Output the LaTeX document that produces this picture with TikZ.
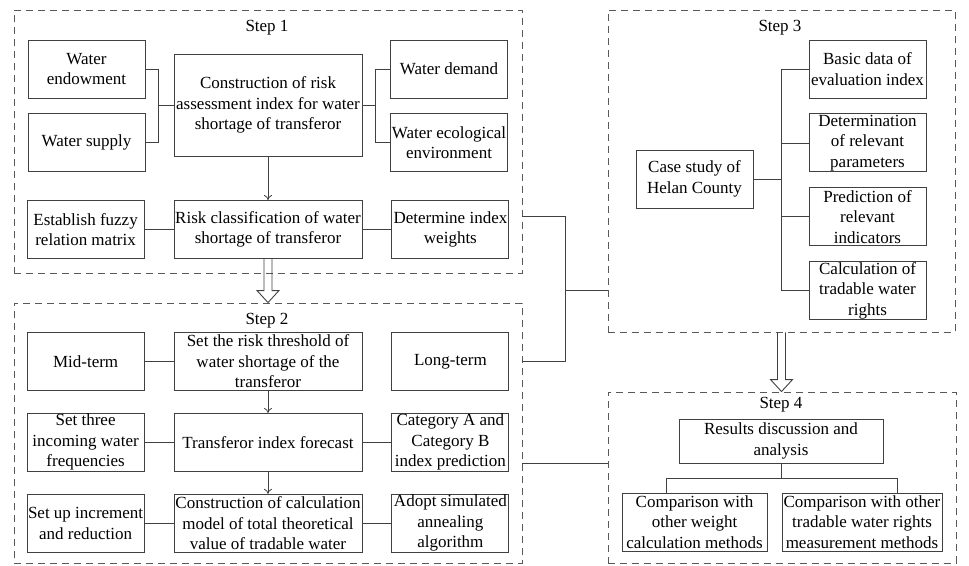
\documentclass[tikz,border=0pt]{standalone}
\usepackage{fontspec}
\setmainfont{Liberation Serif}
\usetikzlibrary{arrows.meta,positioning,calc}

% outlined block arrow between two steps
\newcommand{\hollowarrow}[2]{%
  \draw[line width=0.9pt, draw=black!75] let \p1=(#1), \p2=(#2) in
    (\x1-4pt,\y1) -- (\x1-4pt,\y2+12pt) -- (\x1-11pt,\y2+12pt) -- (\x1,\y2)
    -- (\x1+11pt,\y2+12pt) -- (\x1+4pt,\y2+12pt) -- (\x1+4pt,\y1);}

\begin{document}
\begin{tikzpicture}[x=1pt, y=-1pt, >={To[length=5pt,width=8pt]},
                    font={\fontsize{17}{20.5}\selectfont}]
  \tikzstyle{box}=[draw=black!75, rectangle, line width=0.9pt, align=center,
                   inner sep=0pt, minimum width=117pt, minimum height=58pt, text=black]
  \tikzstyle{mid}=[box, minimum width=188pt]
  \tikzstyle{stepbox}=[draw=black!65, dash pattern=on 7pt off 5pt, line width=0.9pt,
                       rectangle, inner sep=0pt]
  \tikzstyle{link}=[draw=black!75, line width=0.8pt]

  \useasboundingbox (0,0) rectangle (969,565);

  % dashed step frames
  \node[stepbox, minimum width=508pt, minimum height=263pt] (s1) at (268,141.5) {};
  \node[stepbox, minimum width=508pt, minimum height=260pt] (s2) at (268,433)   {};
  \node[stepbox, minimum width=347pt, minimum height=322pt] (s3) at (781.5,171) {};
  \node[stepbox, minimum width=348pt, minimum height=171pt] (s4) at (782,477.5) {};

  % Step 1
  \node (t1) at (267,28) {Step 1};
  \node[mid, minimum height=102pt] (cons) at (268,105)
       {Construction of risk\\assessment index for water\\shortage of transferor};
  \node[box] (endow)  at (86.5,69)    {Water\\endowment};
  \node[box] (supply) at (86.5,142.5) {Water supply};
  \node[box] (demand) at (449,69)     {Water demand};
  \node[box] (eco)    at (449,142.5)  {Water ecological\\environment};
  \node[mid] (risk)   at (268,229.5)  {Risk classification of water\\shortage of transferor};
  \node[box, left=29pt of risk]  (fuzzy)  {Establish fuzzy\\relation matrix};
  \node[box, right=29pt of risk] (weight) {Determine index\\weights};

  % Step 2
  \node (t2) at (267,321) {Step 2};
  \node[mid] (thresh) at (268,361.5) {Set the risk threshold of\\water shortage of the\\transferor};
  \node[box, left=29pt of thresh]  (midterm)  {Mid-term};
  \node[box, right=29pt of thresh] (longterm) {Long-term};
  \node[mid, below=22pt of thresh] (fore) {Transferor index forecast};
  \node[box, left=29pt of fore]  (freq) {Set three\\incoming water\\frequencies};
  \node[box, right=29pt of fore] (cat)  {Category A and\\Category B\\index prediction};
  \node[mid, below=22pt of fore] (model)
       {Construction of calculation\\model of total theoretical\\value of tradable water};
  \node[box, left=29pt of model]  (incr)   {Set up increment\\and reduction};
  \node[box, right=29pt of model] (anneal) {Adopt simulated\\annealing\\algorithm};

  % Step 3
  \node (t3) at (780,28) {Step 3};
  \node[box] (case)  at (694.5,179) {Case study of\\Helan County};
  \node[box] (basic) at (867.5,69)  {Basic data of\\evaluation index};
  \node[box, below=15pt of basic] (param) {Determination\\of relevant\\parameters};
  \node[box, below=15pt of param] (pred)  {Prediction of\\relevant\\indicators};
  \node[box, below=15pt of pred]  (calc)  {Calculation of\\tradable water\\rights};

  % Step 4
  \node (t4) at (781,405) {Step 4};
  \node[box, minimum width=204pt, minimum height=44pt] (res) at (781,441)
       {Results discussion and\\analysis};
  \node[box, minimum width=145pt] (cmpw) at (694.5,522)
       {Comparison with\\other weight\\calculation methods};
  \node[box, minimum width=160pt] (cmpm) at (862,522)
       {Comparison with other\\tradable water rights\\measurement methods};

  % links inside step 1
  \draw[link] (endow.east) -- ++(13,0) |- (supply.east);
  \draw[link] (cons.west) -- ++(-16,0);
  \draw[link] (demand.west) -- ++(-15,0) |- (eco.west);
  \draw[link] (cons.east) -- ++(14,0);
  \draw[link,->] (cons) -- (risk);
  \draw[link] (fuzzy) -- (risk) -- (weight);

  % links inside step 2
  \draw[link] (midterm) -- (thresh);
  \draw[link,->] (thresh) -- (fore);
  \draw[link,->] (fore) -- (model);
  \draw[link] (freq) -- (fore) -- (cat);
  \draw[link] (incr) -- (model) -- (anneal);

  % step 3 tree
  \draw[link] (case.east) -- ++(29,0);
  \draw[link] (basic.west) -- ++(-27,0) |- (calc.west);
  \draw[link] (param.west) -- ++(-27,0);
  \draw[link] (pred.west) -- ++(-27,0);

  % step 4 tree
  \coordinate (forkL) at (666,478);
  \coordinate (forkR) at (897,478);
  \draw[link] (res.south) -- (res.south |- forkL);
  \draw[link] (cmpw.north -| forkL) -- (forkL) -- (forkR) -- (cmpm.north -| forkR);

  % between the steps
  \coordinate (bus) at (565,0);
  \draw[link] (s1.east |- pred) -- (bus |- pred) -- (bus |- longterm) -- (s2.east |- longterm);
  \draw[link] (bus |- calc) -- (s3.west |- calc);
  \draw[link] (s2.east |- res.south) -- (s4.west |- res.south);
  \hollowarrow{risk.south}{s2.north}
  \hollowarrow{s3.south}{s4.north}
\end{tikzpicture}
\end{document}
